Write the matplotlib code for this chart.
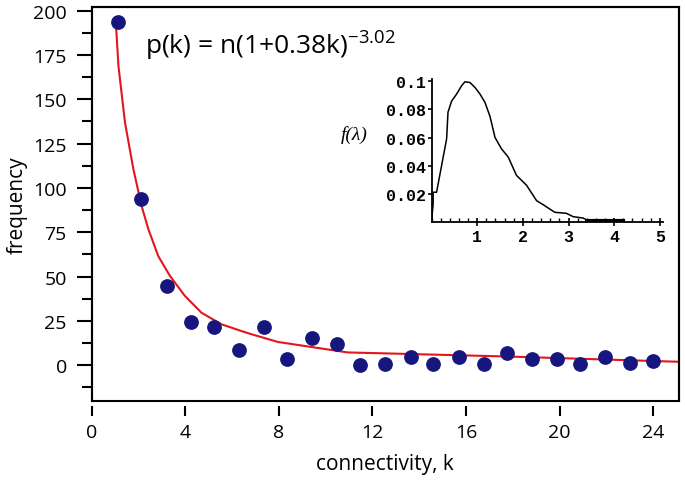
import matplotlib
matplotlib.use('Agg')
import matplotlib.pyplot as plt
from matplotlib.patches import Rectangle
from matplotlib.ticker import MultipleLocator, FixedLocator

# data
k = [1.1, 2.1, 3.2, 4.26, 5.23, 6.3, 7.36, 8.35, 9.42, 10.5, 11.48, 12.55,
     13.64, 14.6, 15.69, 16.77, 17.77, 18.83, 19.9, 20.88, 21.96, 23.02, 24.0]
freq = [193.6, 93.6, 44.4, 24.4, 21.6, 8.5, 21.8, 3.4, 15.6, 11.8, 0.0, 0.7,
        4.5, 0.7, 4.7, 0.7, 6.9, 3.4, 3.4, 0.7, 4.7, 1.0, 2.3]

fit_k = [1.02, 1.14, 1.42, 1.78, 2.13, 2.42, 2.84, 3.34, 3.98, 4.69, 5.54,
         6.39, 6.82, 7.96, 10.94, 17.76, 25.15]
fit_p = [195.0, 168.8, 136.9, 110.5, 89.8, 76.7, 61.6, 50.4, 39.1, 29.6, 23.1,
         19.3, 17.5, 13.1, 7.2, 4.9, 1.9]

# inset distribution f(lambda)
lam = [0.0, 0.01, 0.035, 0.035, 0.11, 0.33, 0.36, 0.44, 0.55, 0.66, 0.73, 0.84,
       0.95, 1.06, 1.17, 1.28, 1.39, 1.53, 1.68, 1.86, 2.08, 2.3, 2.45, 2.59,
       2.7, 2.95, 3.1, 3.32, 3.4]
f_lam = [0.0, 0.004, 0.0126, 0.021, 0.021, 0.059, 0.078, 0.086, 0.091, 0.097,
         0.0997, 0.0992, 0.0957, 0.091, 0.085, 0.075, 0.060, 0.052, 0.046, 0.033,
         0.026, 0.015, 0.012, 0.009, 0.0067, 0.006, 0.0036, 0.0026, 0.0012]
tail_lam = [3.35, 4.23]
tail_f = [0.0007, 0.0007]

xticks = [0, 4, 8, 12, 16, 20, 24]
inset_yticks = [0.02, 0.04, 0.06, 0.08, 0.1]
inset_ylabels = ['0.02', '0.04', '0.06', '0.08', '0.1']

plt.rcParams['font.family'] = ['Open Sans', 'DejaVu Sans']
plt.rcParams['mathtext.default'] = 'regular'

fig = plt.figure(figsize=(6.85, 4.81), dpi=100)
ax = fig.add_axes([0.134, 0.165, 0.857, 0.818])

ax.plot(fit_k, fit_p, color='#e4161c', lw=1.5, zorder=2)
ax.plot(k, freq, 'o', color='#16167e', ms=9.6, zorder=3)

ax.set_xlim(0, 25.1)
ax.set_ylim(-20, 202)

# x axis detached below the frame
ax.spines['bottom'].set_position(('outward', 4))
ax.spines['bottom'].set_color('none')
for s in ['left', 'top', 'right']:
    ax.spines[s].set_linewidth(1.5)
ax.add_patch(Rectangle((0, 0), 1, 1, transform=ax.transAxes, fill=False,
                       lw=1.5, ec='black', zorder=5, clip_on=False))

ax.xaxis.set_major_locator(FixedLocator(xticks))
ax.yaxis.set_major_locator(MultipleLocator(25))
ax.yaxis.set_minor_locator(FixedLocator([-12.5 + 25 * i for i in range(9)]))
ax.tick_params(axis='x', direction='out', length=7, width=1.5, labelsize=14, pad=5)
ax.tick_params(axis='y', which='major', direction='out', length=11, width=1.5,
               labelsize=14, pad=7)
ax.tick_params(axis='y', which='minor', direction='out', length=7.5, width=1.5)

ax.set_xlabel('connectivity, k', fontsize=15, labelpad=9)
ax.set_ylabel('frequency', fontsize=15, labelpad=4)

ax.text(0.091, 0.881, r'p(k) = n(1+0.38k)$^{\minus3.02}$', transform=ax.transAxes,
        fontsize=19, va='baseline', ha='left')

# inset
ins = fig.add_axes([0.630, 0.537, 0.338, 0.297])
ins.patch.set_alpha(0)
ins.plot(lam, f_lam, color='black', lw=1.1)
ins.plot(tail_lam, tail_f, color='black', lw=3.0, solid_capstyle='butt')
ins.set_xlim(0, 5.07)
ins.set_ylim(0, 0.1018)
ins.spines['top'].set_visible(False)
ins.spines['right'].set_visible(False)
ins.spines['left'].set_linewidth(1.3)
ins.spines['bottom'].set_linewidth(1.3)
ins.xaxis.set_major_locator(FixedLocator([1, 2, 3, 4, 5]))
ins.xaxis.set_minor_locator(MultipleLocator(0.2))
ins.yaxis.set_major_locator(FixedLocator(inset_yticks))
ins.set_yticklabels(inset_ylabels)
ins.tick_params(axis='x', which='major', direction='inout', length=6, width=1.2,
                pad=2)
ins.tick_params(axis='x', which='minor', direction='in', length=3, width=1.0)
ins.tick_params(axis='y', which='major', direction='out', length=3, width=1.2,
                pad=1)
for lab in ins.get_xticklabels() + ins.get_yticklabels():
    lab.set_family(['Liberation Mono', 'DejaVu Sans Mono'])
    lab.set_fontweight('bold')
    lab.set_fontsize(12)

fig.text(0.536, 0.719, 'f(λ)', ha='right', va='center', fontsize=14,
         family=['Liberation Serif', 'DejaVu Serif'], style='italic')

fig.savefig('out.png', dpi=100)
